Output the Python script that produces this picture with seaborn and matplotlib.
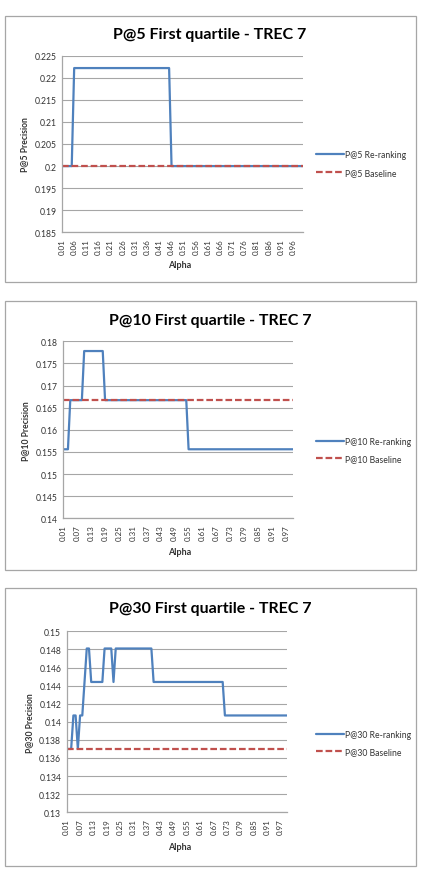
import matplotlib
matplotlib.use("Agg")
import matplotlib.pyplot as plt
from matplotlib.patches import Rectangle
import seaborn as sns
import numpy as np

# alpha categories 0.01 .. 1.00
alpha = [f"{i / 100:.2f}" for i in range(1, 101)]

# P@5
p5_rerank = [0.2] * 5 + [0.2222] * 40 + [0.2] * 55
p5_base = [0.2] * 100
p5_yticks = [0.185, 0.19, 0.195, 0.2, 0.205, 0.21, 0.215, 0.22, 0.225]

# P@10
p10_rerank = [0.1556] * 3 + [0.1667] * 6 + [0.1778] * 9 + [0.1667] * 36 + [0.1556] * 46
p10_base = [0.1667] * 100
p10_yticks = [0.14, 0.145, 0.15, 0.155, 0.16, 0.165, 0.17, 0.175, 0.18]

# P@30
p30_rerank = ([0.1370] * 3 + [0.1407] * 2 + [0.1370] + [0.1407] * 2 + [0.1444]
              + [0.1481] * 2 + [0.1444] * 6 + [0.1481] * 4 + [0.1444]
              + [0.1481] * 17 + [0.1444] * 32 + [0.1407] * 29)
p30_base = [0.1370] * 100
p30_yticks = [0.13, 0.132, 0.134, 0.136, 0.138, 0.14, 0.142, 0.144, 0.146, 0.148, 0.15]

W, H = 422, 879
BLUE = "#4F81BD"
RED = "#C0504D"
GRID = "#A6A6A6"
TXT = "#333333"

sns.set_style("white")
plt.rcParams["font.family"] = ["Lato", "DejaVu Sans"]

fig = plt.figure(figsize=(W / 100, H / 100), dpi=100)


def fx(x):
    return x / W


def fy(y):
    return 1 - y / H


charts = [
    dict(name="P@5", rerank=p5_rerank, base=p5_base, yticks=p5_yticks, step=5,
         box=(5, 17, 416, 283), plot=(62, 56.7, 303, 233.3),
         title_y=35, xlabel_y=266, leg_y=(156, 173)),
    dict(name="P@10", rerank=p10_rerank, base=p10_base, yticks=p10_yticks, step=6,
         box=(5, 302, 416, 571), plot=(63.3, 342.3, 293, 519.3),
         title_y=321, xlabel_y=553, leg_y=(442, 460)),
    dict(name="P@30", rerank=p30_rerank, base=p30_base, yticks=p30_yticks, step=6,
         box=(5, 589, 416, 867), plot=(66.7, 632.3, 287.3, 813.3),
         title_y=609, xlabel_y=848, leg_y=(735, 753)),
]

for c in charts:
    bx0, by0, bx1, by1 = c["box"]
    fig.patches.append(Rectangle((fx(bx0), fy(by1)), fx(bx1 - bx0), (by1 - by0) / H,
                                 transform=fig.transFigure, fill=False,
                                 edgecolor=GRID, lw=0.9))
    px0, py0, px1, py1 = c["plot"]
    ax = fig.add_axes([fx(px0), fy(py1), fx(px1 - px0), (py1 - py0) / H])
    x = np.arange(len(alpha))
    sns.lineplot(x=x, y=c["rerank"], ax=ax, color=BLUE, lw=1.6,
                 label=f"{c['name']} Re-ranking")
    sns.lineplot(x=x, y=c["base"], ax=ax, color=RED, lw=1.6,
                 linestyle=(0, (3, 1.3)), label=f"{c['name']} Baseline")
    ax.set_xlim(0, len(alpha) - 1)
    ax.set_ylim(c["yticks"][0], c["yticks"][-1])
    ax.set_yticks(c["yticks"])
    ax.set_yticklabels([f"{v:g}" for v in c["yticks"]], fontsize=6.2, color=TXT)
    ax.set_xticks(x[::c["step"]])
    ax.set_xticklabels(alpha[::c["step"]], rotation=90, fontsize=5.8, color=TXT)
    ax.tick_params(axis="both", length=2, width=0.6, color=GRID, pad=2)
    ax.yaxis.grid(True, color=GRID, lw=0.8)
    ax.set_axisbelow(True)
    for s in ["top", "right"]:
        ax.spines[s].set_visible(False)
    for s in ["left", "bottom"]:
        ax.spines[s].set_color(GRID)
        ax.spines[s].set_linewidth(0.9)
    ax.set_xlabel("")
    ax.set_ylabel(f"{c['name']} Precision", fontsize=6.2, fontweight="bold",
                  color=TXT, labelpad=4)
    fig.text(fx(180), fy(c["xlabel_y"]), "Alpha", ha="center", va="center",
             fontsize=6.5, fontweight="bold", color=TXT)
    fig.text(fx(210), fy(c["title_y"]), f"{c['name']} First quartile - TREC 7",
             ha="center", va="center", fontsize=11.5, fontweight="bold", color="black")
    handles, labels = ax.get_legend_handles_labels()
    ax.legend(handles, labels, loc="center left",
              bbox_to_anchor=(fx(316), fy((c["leg_y"][0] + c["leg_y"][1]) / 2)),
              bbox_transform=fig.transFigure, frameon=False, fontsize=6.2,
              handlelength=3.2, handletextpad=0.2, labelspacing=1.0,
              labelcolor=TXT, borderaxespad=0, borderpad=0)

fig.savefig("out.png", dpi=100, facecolor="white")
